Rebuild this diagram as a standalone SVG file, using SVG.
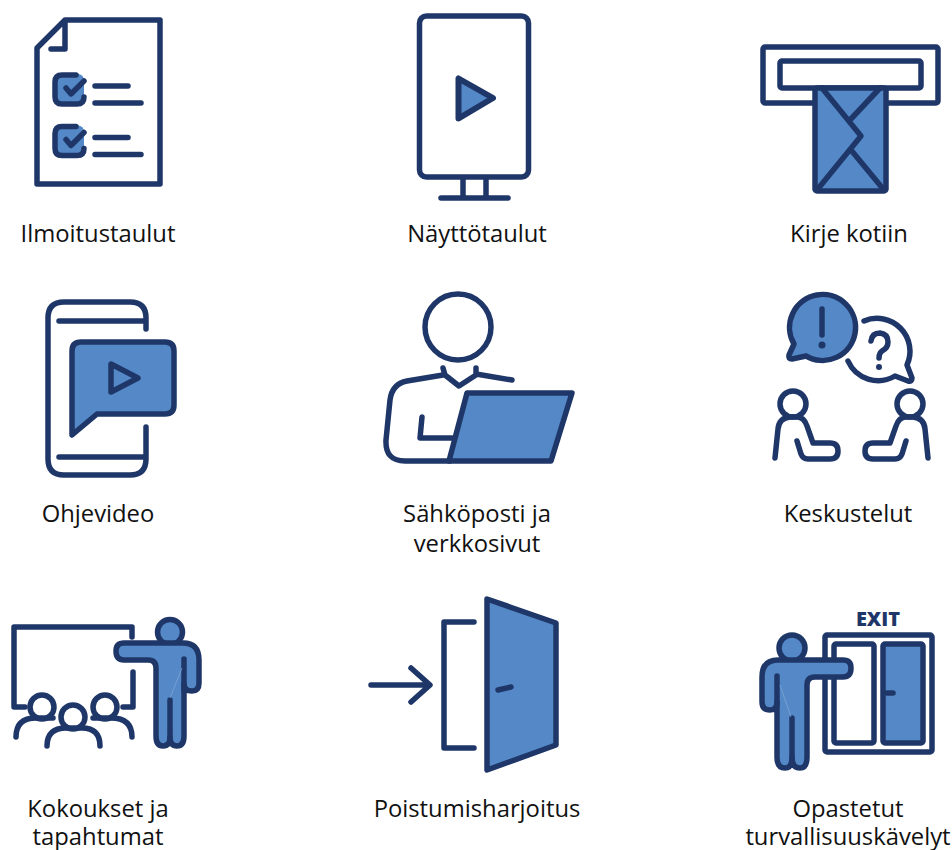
<svg xmlns="http://www.w3.org/2000/svg" width="952" height="850" viewBox="0 0 952 850">
<style>
.l{fill:none;stroke:#1f3768;stroke-width:5.500;stroke-linecap:round;stroke-linejoin:round}
.f{fill:#5488c7;stroke:#1f3768;stroke-width:5.500;stroke-linecap:round;stroke-linejoin:round}
.b{fill:#5488c7}
.w{fill:#fff;stroke:#1f3768;stroke-width:5.500;stroke-linejoin:round}
.h{fill:none;stroke:#8fb0d8;stroke-width:.6}
text{font-family:"Open Sans","Liberation Sans",sans-serif;font-size:23.800px;fill:#111;text-anchor:middle}
.e{font-size:20px;font-weight:800;fill:#1f3768}
</style>
<rect width="952" height="850" fill="#fff"/>
<g id="ilmoitustaulut">
<path class="l" d="M37,48 L65,20 H160 V184 H37 Z M65,20 V49 H51"/>
<rect class="b" x="55" y="74" width="29" height="30" rx="6"/>
<path class="l" d="M76,75 H62 Q55,75 55,82 V97 Q55,104 62,104 H77 Q84,104 84,97 M66,88 L71,94 L84,81 M95,86 H128 M95,103 H141"/>
<rect class="b" x="55" y="125.500" width="29" height="30" rx="6"/>
<path class="l" d="M76,126.500 H62 Q55,126.500 55,133.500 V148.500 Q55,155.500 62,155.500 H77 Q84,155.500 84,148.500 M66,139.500 L71,145.500 L84,132.500 M95,137.500 H128 M95,154.500 H141"/>
<text x="98" y="242">Ilmoitustaulut</text>
</g>
<g id="nayttotaulut">
<rect class="l" x="419.500" y="16" width="109" height="161" rx="7"/>
<path class="l" d="M463,178 V198 M486,178 V198 M441,198 H508"/>
<path class="f" style="stroke-width:6" d="M458.500,78.500 V118.500 L493,98 Z"/>
<text x="477" y="242">Näyttötaulut</text>
</g>
<g id="kirje">
<rect class="l" x="763" y="47" width="175" height="56" rx="2"/>
<rect class="w" x="780" y="61" width="141" height="27" rx="2"/>
<rect class="f" x="815" y="88" width="71" height="103" rx="2"/>
<path class="l" d="M822,88 L861,136 L817,190 M880,88 L850,120 M851,150 L884,190"/>
<text x="849" y="242">Kirje kotiin</text>
</g>
<g id="ohjevideo">
<path class="l" d="M146,329 V318 Q146,302 130,302 H64 Q48,302 48,318 V459 Q48,475 64,475 H130 Q146,475 146,459 V427 M59,321 H146 M59,457 H146"/>
<path class="f" d="M81,342 H165 Q174,342 174,351 V405 Q174,414 165,414 H97 L72,435 V351 Q72,342 81,342 Z"/>
<path class="l" d="M111,364 V392 L138,378 Z"/>
<text x="98" y="522">Ohjevideo</text>
</g>
<g id="sahkoposti">
<circle class="l" cx="458" cy="327" r="33"/>
<path class="l" d="M443,368 L445,375 L459,386 L476,375 L476,368 M443,375 L407,381 Q392,384 390,400 L386,440 Q385,461 405,461 H450 M476,374 L512,380 M422,417 L420,438 H452"/>
<path class="f" d="M467,393 H572 L551,461 H449 Z"/>
<text x="477" y="522">Sähköposti ja</text>
<text x="477" y="552">verkkosivut</text>
</g>
<g id="keskustelut">
<path class="f" d="M794,344 A33,33 0 1 1 806,356 L792,359 Q788,359 789,355 Z"/>
<path class="l" d="M822,309 V335 M864,321 A33,33 0 0 1 907,365 L912,378 Q912,382 908,381 L895,376 A33,33 0 0 1 848,361 M871,341 Q872,333 880,333 Q888,334 888,342 Q888,348 882,351 Q879,353 879,358"/>
<circle cx="822" cy="345" r="3.500" fill="#1f3768"/><circle cx="879" cy="367" r="3" fill="#1f3768"/>
<circle class="l" cx="793" cy="404" r="13"/>
<path class="l" d="M775,458 L778,429 Q779,418 790,417 H797 Q804,417 807,426 L813,443 H830 Q838,443 838,451 Q838,459 830,459 H808 Q803,459 801,454 L797,441"/>
<circle class="l" cx="910" cy="404" r="13"/>
<path class="l" d="M928,458 L925,429 Q924,418 913,417 H906 Q899,417 896,426 L890,443 H873 Q865,443 865,451 Q865,459 873,459 H895 Q900,459 902,454 L906,441"/>
<text x="848" y="522">Keskustelut</text>
</g>
<g id="kokoukset">
<path class="l" d="M132,637 V627 H14 V707 H25 M133,672 V707 H123"/>
<circle class="l" cx="42" cy="707" r="12"/><circle class="l" cx="73" cy="717" r="12"/><circle class="l" cx="105" cy="707" r="12"/>
<path class="l" d="M16,737 Q16,718 36,718 H53 M47,746 Q47,728 66,728 H82 Q100,728 100,746 M93,718 H111 Q132,718 132,737"/>
<circle class="f" cx="170" cy="632" r="12.500"/>
<path class="f" d="M124,643 H183 Q199,643 199,660 V683 Q199,691 192,691 Q184,691 184,684 V736 Q184,746 177,746 Q170,746 170,737 Q170,746 163,746 Q156,746 156,736 V668 Q156,660 148,660 H124 Q116,660 116,651 Q116,643 124,643 Z"/>
<path class="l" d="M184,659 V690 M170,700 V737"/>
<path class="h" d="M182,668 L170,698"/>
<text x="98" y="817">Kokoukset ja</text>
<text x="98" y="845">tapahtumat</text>
</g>
<g id="poistumisharjoitus">
<path class="l" d="M371,685 H429 M411,668 L430,685 L411,702 M474,622 H444 V748 H474"/>
<path class="f" d="M487,599 L556,623 V745 L487,770 Z"/>
<path class="l" d="M498,690 L511,687"/>
<text x="477" y="817">Poistumisharjoitus</text>
</g>
<g id="turvallisuuskavelyt">
<text class="e" x="878" y="626">EXIT</text>
<rect class="l" x="825" y="635" width="107" height="117" rx="2"/>
<rect class="l" x="834" y="644" width="40" height="99" rx="2"/>
<rect class="f" x="883" y="644" width="40" height="99" rx="2"/>
<path class="l" d="M887,693 H893"/>
<circle class="f" cx="792" cy="648" r="13"/>
<path class="f" d="M843,660 H778 Q762,660 762,677 V702 Q762,710 770,710 Q777,710 777,702 V757 Q777,768 785,768 Q792,768 792,757 Q792,768 800,768 Q807,768 807,757 V685 Q807,677 815,677 H843 Q851,677 851,668 Q851,660 843,660 Z"/>
<path class="l" d="M777,676 V705 M792,718 V757"/>
<path class="h" d="M780,685 L791,717"/>
<text x="848" y="817">Opastetut</text>
<text x="848" y="845">turvallisuuskävelyt</text>
</g>
</svg>
